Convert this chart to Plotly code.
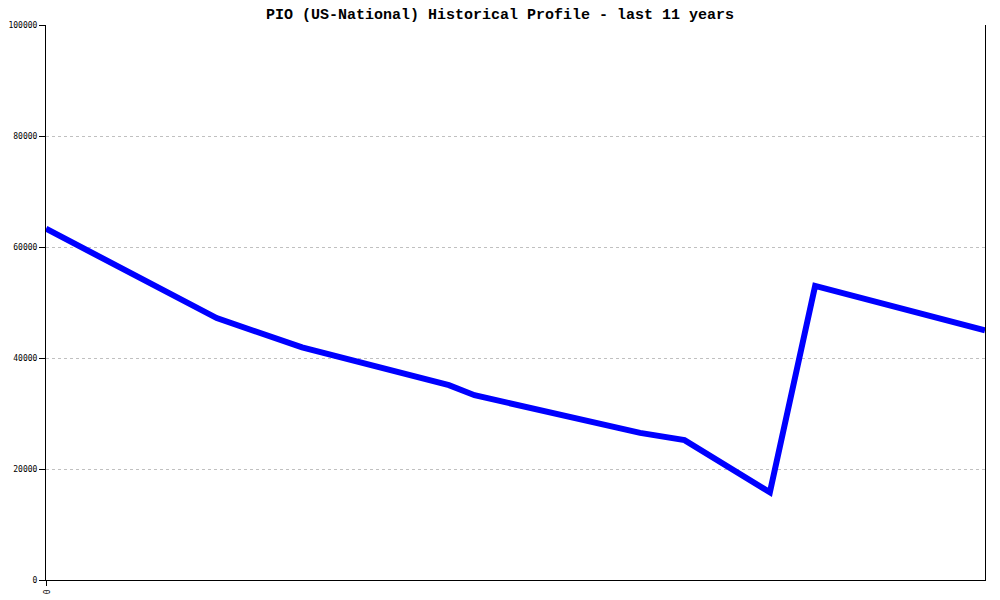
import plotly.graph_objects as go

# Years elapsed since start of the 11-year window
years = [0, 1, 2, 3, 4, 4.72, 5.02, 6, 6.96, 7.48, 8.48, 9.01, 10, 11]
values = [63300, 55400, 47200, 41900, 38000, 35100, 33300, 29900, 26500, 25200, 15800, 53000, 49000, 45000]

x_tickvals = [0]
x_ticktext = ["0"]
y_tickvals = [0, 20000, 40000, 60000, 80000, 100000]
y_ticktext = ["0", "20000", "40000", "60000", "80000", "100000"]

fig = go.Figure()
fig.add_trace(go.Scatter(
    x=years, y=values, mode="lines",
    line=dict(color="#0000ff", width=6),
    hoverinfo="skip", showlegend=False,
))

fig.update_layout(
    width=1000, height=600,
    paper_bgcolor="white", plot_bgcolor="white",
    margin=dict(l=38, r=23, t=17, b=28),
    title=dict(
        text="<b>PIO (US-National) Historical Profile - last 11 years</b>",
        x=0.492, xanchor="center", y=1 - 5.5 / 600, yanchor="middle",
        font=dict(family="Liberation Mono, DejaVu Sans Mono, monospace", size=15, color="black"),
    ),
    xaxis=dict(
        range=[0, 11], showgrid=False, zeroline=False, automargin=False,
        showline=True, linecolor="black", linewidth=1, mirror=False,
        tickmode="array", tickvals=x_tickvals, ticktext=x_ticktext,
        tickangle=90, ticks="outside", ticklen=5, tickcolor="black", ticklabelstandoff=2,
        tickfont=dict(family="DejaVu Sans Mono, monospace", size=8, color="black"),
    ),
    yaxis=dict(
        range=[0, 100000], showgrid=True, gridcolor="#c0c0c0", griddash="dot", gridwidth=1,
        zeroline=False, showline=True, linecolor="black", linewidth=1, mirror=True, automargin=False,
        tickmode="array", tickvals=y_tickvals, ticktext=y_ticktext,
        ticks="outside", ticklen=6, tickcolor="black",
        tickfont=dict(family="DejaVu Sans Mono, monospace", size=8, color="black"),
    ),
)

fig.write_html("out.html")
